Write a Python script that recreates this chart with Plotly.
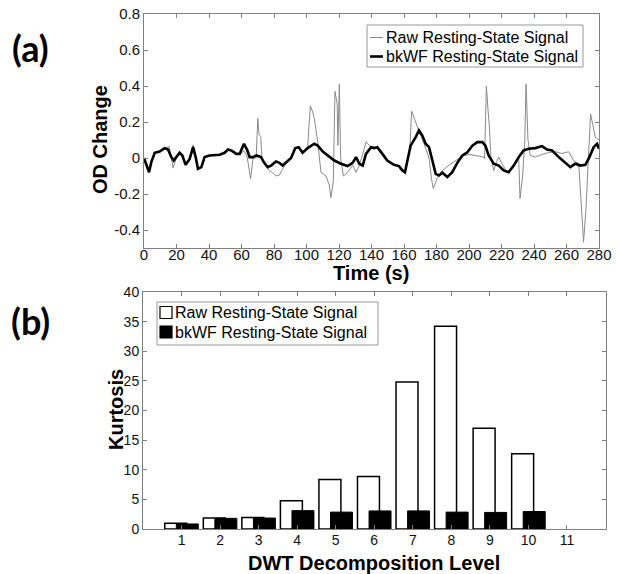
import plotly.graph_objects as go

# ---------------- Panel (a): resting-state signals ----------------
raw_t = [0, 1.4, 3.1, 4.5, 6.6, 9.6, 12.7, 15.4, 16.8, 17.9, 19.9, 21.9, 23.6, 25.6, 28.1,
         30.2, 31.8, 33.2, 35.3, 37.3, 40.4, 43.5, 46.6, 49.6, 51.7, 53.7, 56.8, 58.9, 61.5,
         63.4, 65.6, 67.1, 69.0, 70.0, 70.8, 71.8, 72.6, 74.0, 77.1, 79.0, 81.2, 83.3, 85.3,
         88.4, 90.5, 93.1, 95.2, 97.6, 100.7, 101.3, 102.4, 104.0, 104.8, 106.9, 108.9, 112.0,
         114.0, 115.0, 116.5, 117.5, 118.3, 118.9, 119.3, 120.2, 121.0, 122.7, 125.3, 128.4,
         130.5, 132.5, 134.6, 136.6, 139.7, 141.5, 143.6, 146.7, 149.7, 153.8, 156.9, 159.0,
         160.6, 162.1, 163.6, 164.7, 166.2, 169.2, 172.3, 175.4, 177.0, 178.0, 180.5, 183.6,
         187.7, 191.8, 195.9, 200.0, 204.1, 207.0, 209.2, 209.6, 210.7, 211.7, 212.5, 213.5,
         215.2, 217.0, 218.3, 220.3, 223.4, 227.5, 230.6, 231.4, 233.0, 234.3, 235.1, 236.3,
         237.7, 240.8, 244.9, 249.0, 253.1, 257.2, 261.3, 264.4, 267.5, 269.5, 270.5, 272.0,
         273.2, 274.8, 276.3, 277.7, 280.0]
raw_v = [0.0, -0.03, -0.08, -0.02, 0.03, 0.035, 0.05, 0.065, 0.0, -0.056, 0.0, 0.03, 0.012,
         -0.04, -0.005, 0.073, 0.0, -0.06, -0.05, 0.005, 0.014, 0.018, 0.018, 0.029, 0.047,
         0.042, 0.023, 0.02, 0.04, 0.01, -0.115, 0.0, 0.0, 0.22, 0.13, 0.12, 0.0, -0.03, -0.07,
         -0.08, -0.10, -0.095, -0.06, -0.02, 0.0, 0.05, 0.055, 0.03, 0.05, 0.15, 0.29, 0.25,
         0.22, 0.09, -0.08, -0.10, -0.15, -0.22, -0.13, 0.37, 0.33, 0.30, 0.07, 0.41, 0.0,
         -0.10, -0.08, -0.04, -0.08, -0.04, 0.02, 0.09, 0.06, 0.06, 0.05, 0.02, -0.015, -0.04,
         -0.045, -0.07, -0.07, -0.03, 0.05, 0.26, 0.22, 0.15, 0.08, 0.0, -0.12, -0.17, -0.11,
         -0.07, -0.04, -0.015, 0.01, 0.02, 0.015, 0.01, 0.005, -0.005, 0.40, 0.27, 0.18, 0.005,
         -0.07, -0.02, 0.005, -0.03, -0.08, -0.05, -0.005, -0.225, -0.10, 0.09, 0.41, 0.10,
         0.015, 0.005, 0.02, 0.03, 0.035, 0.025, 0.035, -0.015, -0.03, -0.32, -0.468, -0.28,
         -0.06, 0.245, 0.18, 0.115, 0.10]

bkwf_t = [0, 1.4, 3.1, 4.5, 6.6, 9.6, 12.7, 14.8, 16.8, 18.3, 19.9, 21.9, 23.6, 25.6, 28.1,
          30.2, 31.8, 33.2, 35.3, 37.3, 40.4, 43.5, 46.6, 49.6, 51.7, 53.7, 56.8, 58.9, 61.5,
          63.4, 65.0, 67.1, 69.1, 72.0, 74.0, 76.1, 78.2, 81.2, 83.3, 85.3, 88.4, 90.5, 93.1,
          95.2, 97.6, 100.7, 104.8, 106.9, 110.0, 113.0, 117.1, 121.2, 125.3, 128.4, 130.5,
          132.5, 134.6, 136.6, 139.7, 141.5, 143.6, 146.7, 149.7, 153.8, 156.9, 159.0, 160.6,
          162.1, 164.1, 167.2, 169.2, 171.3, 173.3, 175.4, 177.4, 179.5, 181.5, 183.6, 186.7,
          189.7, 192.8, 195.9, 199.0, 202.1, 205.1, 208.2, 210.1, 212.1, 215.2, 218.3, 221.3,
          224.4, 227.5, 230.6, 233.6, 236.7, 240.8, 244.9, 248.0, 251.1, 255.2, 259.3, 262.4,
          265.4, 268.5, 271.6, 274.1, 276.7, 278.8, 280.0]
bkwf_v = [0.0, -0.032, -0.079, -0.023, 0.029, 0.036, 0.055, 0.047, 0.005, -0.014, 0.005,
          0.029, 0.014, -0.038, -0.005, 0.06, 0.005, -0.06, -0.051, 0.005, 0.014, 0.018, 0.018,
          0.029, 0.047, 0.042, 0.023, 0.023, 0.079, 0.047, 0.005, 0.005, 0.014, 0.005, -0.027,
          -0.051, -0.042, -0.019, -0.027, -0.042, -0.014, 0.0, 0.055, 0.06, 0.029, 0.055,
          0.079, 0.069, 0.036, 0.014, -0.014, -0.032, -0.045, -0.027, 0.005, -0.032, -0.042,
          0.023, 0.06, 0.055, 0.06, 0.023, -0.014, -0.038, -0.045, -0.069, -0.079, -0.014,
          0.069, 0.116, 0.153, 0.125, 0.079, 0.06, -0.005, -0.088, -0.097, -0.082, -0.106,
          -0.079, -0.027, 0.014, 0.032, 0.069, 0.088, 0.088, 0.069, 0.014, -0.032, -0.042,
          -0.069, -0.079, -0.042, 0.005, 0.042, 0.051, 0.055, 0.066, 0.047, 0.042, 0.005,
          -0.027, -0.051, -0.032, -0.042, -0.038, 0.005, 0.06, 0.079, 0.051]

time_ticks = list(range(0, 281, 20))
od_ticks = [-0.4, -0.2, 0, 0.2, 0.4, 0.6, 0.8]
od_tick_labels = ["-0.4", "-0.2", "0", "0.2", "0.4", "0.6", "0.8"]

# ---------------- Panel (b): kurtosis per DWT level ----------------
levels = [1, 2, 3, 4, 5, 6, 7, 8, 9, 10]
kurt_raw = [0.95, 1.85, 1.95, 4.75, 8.35, 8.85, 24.8, 34.2, 17.0, 12.7]
kurt_bkwf = [0.85, 1.8, 1.85, 3.1, 2.85, 3.05, 3.05, 2.85, 2.8, 2.95]
level_ticks = [1, 2, 3, 4, 5, 6, 7, 8, 9, 10, 11]
kurt_ticks = [0, 5, 10, 15, 20, 25, 30, 35, 40]

W, H = 620, 574
def fx(p):
    return p / W
def fy(p):
    return 1 - p / H

FONT = "Arial, Liberation Sans, sans-serif"
AX = "#808080"

fig = go.Figure()
fig.add_trace(go.Scatter(x=raw_t, y=raw_v, mode="lines", name="Raw Resting-State Signal",
                         line=dict(color="#8a8a8a", width=1), xaxis="x", yaxis="y",
                         showlegend=False))
fig.add_trace(go.Scatter(x=bkwf_t, y=bkwf_v, mode="lines", name="bkWF Resting-State Signal",
                         line=dict(color="black", width=2.6), xaxis="x", yaxis="y",
                         showlegend=False))
fig.add_trace(go.Bar(x=levels, y=kurt_raw, name="Raw Resting-State Signal",
                     marker=dict(color="white", line=dict(color="black", width=1.5)),
                     width=0.57, offset=-0.435, xaxis="x2", yaxis="y2", showlegend=False))
fig.add_trace(go.Bar(x=levels, y=kurt_bkwf, name="bkWF Resting-State Signal",
                     marker=dict(color="black", line=dict(color="black", width=1)),
                     width=0.57, offset=-0.135, xaxis="x2", yaxis="y2", showlegend=False))

axis_common = dict(showline=True, linecolor=AX, linewidth=1, mirror="ticks", ticks="inside",
                   ticklen=4, tickcolor=AX, showgrid=False, zeroline=False, automargin=False)

fig.update_layout(
    template="none",
    width=W, height=H, margin=dict(l=0, r=0, t=0, b=0, pad=0), autosize=False,
    paper_bgcolor="white", plot_bgcolor="white", barmode="overlay", showlegend=False,
    xaxis=dict(domain=[fx(144), fx(599)], range=[0, 280], tickvals=time_ticks, anchor="y",
               ticklabelstandoff=-7,
               tickfont=dict(family=FONT, size=15, color="#111"), **axis_common),
    yaxis=dict(domain=[fy(248), fy(14)], range=[-0.5, 0.8], tickvals=od_ticks,
               ticktext=od_tick_labels, anchor="x",
               tickfont=dict(family=FONT, size=15, color="#111"), **axis_common),
    xaxis2=dict(domain=[fx(143), fx(605.5)], range=[0, 12], tickvals=level_ticks, anchor="y2",
                ticklabelstandoff=-2,
                tickfont=dict(family=FONT, size=14, color="#111"), **axis_common),
    yaxis2=dict(domain=[fy(529), fy(292)], range=[0, 40], tickvals=kurt_ticks, anchor="x2",
                tickfont=dict(family=FONT, size=14, color="#111"), **axis_common),
)

ann = []
def text(x, y, s, size, bold=False, angle=0, xanchor="center", family=FONT):
    ann.append(dict(x=fx(x), y=fy(y), xref="paper", yref="paper", text=f"<b>{s}</b>" if bold else s,
                    showarrow=False, xanchor=xanchor, yanchor="middle", textangle=angle,
                    font=dict(family=family, size=size, color="black")))

# panel labels
text(30, 48, "(a)", 36, bold=True, family="Lato, Open Sans, sans-serif")
text(30, 321, "(b)", 36, bold=True, family="Lato, Open Sans, sans-serif")
# axis titles
text(100, 140, "OD Change", 20, bold=True, angle=-90)
text(371, 273, "Time (s)", 20, bold=True)
text(116, 410, "Kurtosis", 20, bold=True, angle=-90)
text(374, 563, "DWT Decomposition Level", 20, bold=True)

# legend (a)
shapes = []
shapes.append(dict(type="rect", xref="paper", yref="paper", x0=fx(367), x1=fx(583), y0=fy(67), y1=fy(25),
                   line=dict(color="#999", width=1), fillcolor="white", layer="above"))
shapes.append(dict(type="line", xref="paper", yref="paper", x0=fx(370), x1=fx(383), y0=fy(37.5), y1=fy(37.5),
                   line=dict(color="#8a8a8a", width=1), layer="above"))
shapes.append(dict(type="line", xref="paper", yref="paper", x0=fx(370), x1=fx(383), y0=fy(56.5), y1=fy(56.5),
                   line=dict(color="black", width=2.6), layer="above"))
text(384, 37.5, "Raw Resting-State Signal", 16, xanchor="left")
text(384, 56.5, "bkWF Resting-State Signal", 16, xanchor="left")

# legend (b)
shapes.append(dict(type="rect", xref="paper", yref="paper", x0=fx(157), x1=fx(378), y0=fy(345), y1=fy(302),
                   line=dict(color="#999", width=1), fillcolor="white", layer="above"))
shapes.append(dict(type="rect", xref="paper", yref="paper", x0=fx(160), x1=fx(172), y0=fy(318.5), y1=fy(306.5),
                   line=dict(color="black", width=1.2), fillcolor="white", layer="above"))
shapes.append(dict(type="rect", xref="paper", yref="paper", x0=fx(160), x1=fx(172), y0=fy(338), y1=fy(326),
                   line=dict(color="black", width=1.2), fillcolor="black", layer="above"))
text(173, 312.5, "Raw Resting-State Signal", 16, xanchor="left")
text(173, 332, "bkWF Resting-State Signal", 16, xanchor="left")

fig.update_layout(annotations=ann, shapes=shapes)
fig.write_html("out.html", config={"displayModeBar": False},
               post_script="document.body.style.margin='0';document.body.style.overflow='hidden';")
